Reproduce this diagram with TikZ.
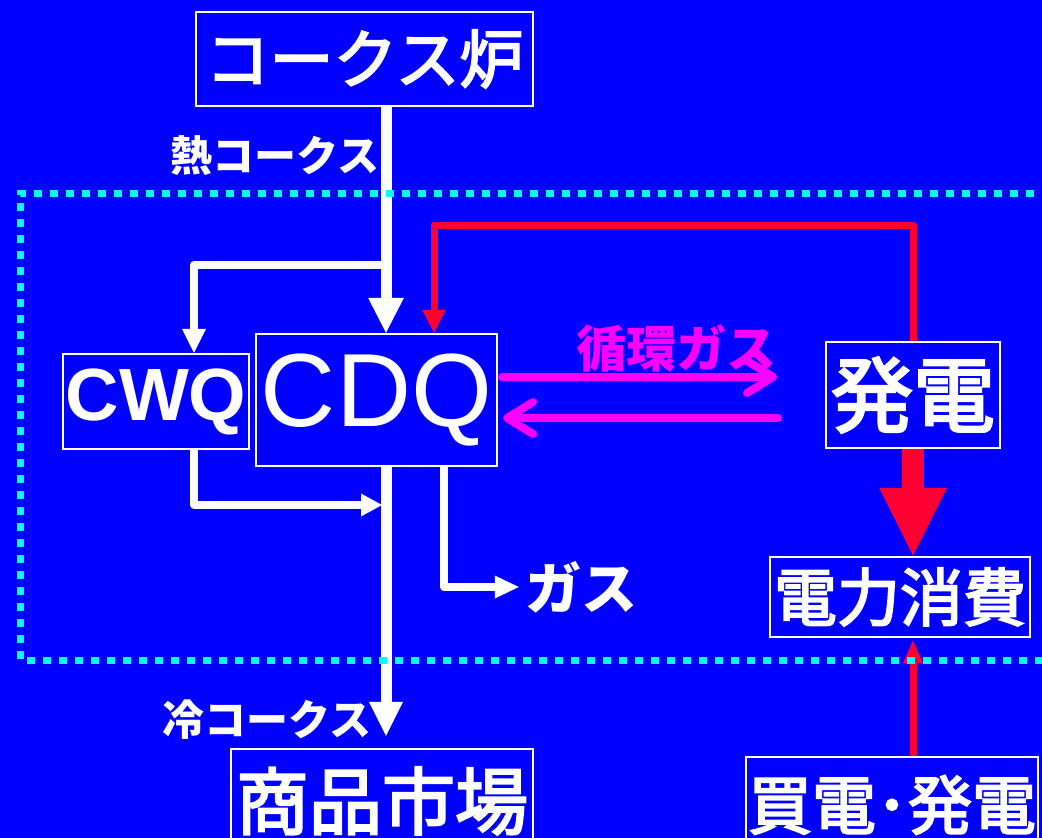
\documentclass[tikz,border=0pt]{standalone}
\usepackage{fontspec}
\setmainfont{Liberation Sans}
\newfontfamily\jp{Noto Sans CJK JP}
\newfontfamily\jpm{Noto Sans CJK JP}[FakeBold=3]
\usetikzlibrary{arrows.meta}
\definecolor{bg}{HTML}{0000FF}
\definecolor{cy}{HTML}{00FFFF}
\definecolor{rd}{HTML}{FF0033}
\definecolor{mg}{HTML}{FF00FF}
\begin{document}
\begin{tikzpicture}[x=1pt,y=-1pt,
  box/.style={draw=white, line width=2.5pt, text=white, inner sep=0pt, align=center},
  jpfont/.style={font=\jpm\fontsize{#1}{#1}\selectfont},
  lbl/.style={text=white, inner sep=0pt, font=\jp\bfseries\fontsize{#1}{#1}\selectfont},
  wmain/.style={draw=white, line width=11pt},
  wthin/.style={draw=white, line width=8pt},
  rline/.style={draw=rd, line width=7pt, line join=round},
  mline/.style={draw=mg, line width=8pt, line cap=round, -{Straight Barb[length=26pt,width=32pt,round]}},
  dotbox/.style={draw=cy, line width=7pt, dash pattern=on 8pt off 8pt}
]
\useasboundingbox (0,0) rectangle (1042,838);
\fill[bg] (0,0) rectangle (1042,838);

% nodes
\node[box, jpfont=64, minimum width=337pt, minimum height=94pt] (kiln) at (364.5,59) {コークス炉};
\node[box, font=\bfseries\fontsize{74}{74}\selectfont, minimum width=186pt, minimum height=95pt] (cwq) at (156,401.5) {CWQ};
\node[box, font=\fontsize{104}{104}\selectfont, minimum width=241pt, minimum height=132pt] (cdq) at (376.5,400) {CDQ};
\node[box, jpfont=82, minimum width=174pt, minimum height=106pt] (hat) at (913,395) {発電};
\node[box, jpfont=63, minimum width=260pt, minimum height=80pt] (den) at (900,597) {電力消費};
\node[box, jpfont=64, minimum width=292pt, minimum height=96pt] (bai) at (892,805) {買電･発電};
\node[box, jpfont=73, minimum width=302pt, minimum height=104pt] (sho) at (382,801) {商品市場};

\node[lbl=42] (hot) at (275,156) {熱コークス};
\node[lbl=42] (cold) at (267,720) {冷コークス};
\node[lbl=50, text=mg] (circ) at (676,348) {循環ガス};
\node[lbl=56] (gas) at (581,587) {ガス};

% coordinates
\coordinate (mx) at (386,0);
\coordinate (b1) at (386,265);
\coordinate (b2) at (194,265);
\coordinate (c1) at (194,505);
\coordinate (g1) at (444,587);
\coordinate (rtop) at (434,225);
\coordinate (ma) at (502,377);
\coordinate (mb) at (777,377);
\coordinate (mc) at (778,418);
\coordinate (md) at (503,418);

% white connectors
\draw[wmain, -{Triangle[width=36pt,length=35pt,line width=0pt]}] (kiln.south -| mx) -- (cdq.north -| mx);
\draw[wthin, line join=round, -{Triangle[width=24pt,length=24pt,line width=0pt]}] (b1) -- (b2) -- (cwq.north -| b2);
\draw[wthin, line join=round, shorten >=4pt, -{Triangle[width=23pt,length=21pt,line width=0pt]}] (cwq.south -| c1) -- (c1) -- (c1 -| mx);
\draw[wmain, shorten >=12pt, -{Triangle[width=34pt,length=34pt,line width=0pt]}] (cdq.south -| mx) -- (sho.north -| mx);
\draw[wthin, line join=round, shorten >=6pt, -{Triangle[width=23pt,length=24pt,line width=0pt]}] (cdq.south -| g1) -- (g1) -- (gas.west);

% red connectors
\draw[rline, -{Triangle[width=24pt,length=23pt,line width=0pt]}] (hat.north) |- (rtop) -- (cdq.north -| rtop);
\draw[draw=rd, line width=22pt, -{Triangle[width=68pt,length=68pt,line width=0pt]}] (hat.south) -- (den.north -| hat);
\draw[rline, shorten >=2pt, -{Triangle[width=20pt,length=23pt,line width=0pt]}] (bai.north -| hat) -- (den.south -| hat);

% magenta
\draw[mline] (ma) -- (mb);
\draw[mline] (mc) -- (md);

% dotted boundary
\draw[dotbox] (1050,193) -- (20,193) -- (20,660) -- (1050,660);
\end{tikzpicture}
\end{document}
